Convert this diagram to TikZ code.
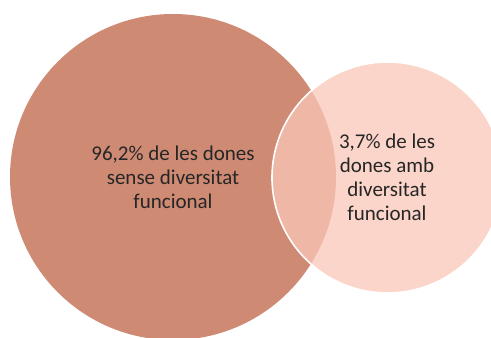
\documentclass[tikz,border=0pt]{standalone}
\usepackage{fontspec}
\setmainfont{Carlito}
\definecolor{bigc}{RGB}{207,138,116}
\definecolor{smallc}{RGB}{250,199,184}
\definecolor{txt}{RGB}{38,38,38}
\begin{document}
\begin{tikzpicture}[x=1pt,y=1pt,
  lbl/.style={align=center,text=txt,font=\fontsize{21}{24}\selectfont,inner sep=0pt}]
\useasboundingbox (0,0) rectangle (491,338);
\clip (0,0) rectangle (491,338);
\fill[white] (0,0) rectangle (491,338);
\fill[bigc] (173,161) circle[radius=163];
\filldraw[fill=smallc,fill opacity=0.75,draw=white,line width=1.6pt] (387.5,160.5) circle[radius=115.5];
\node[lbl] (big) at (173,161) {96,2\% de les dones\\sense diversitat\\funcional};
\node[lbl] (small) at (387,160.5) {3,7\% de les\\dones amb\\diversitat\\funcional};
\end{tikzpicture}
\end{document}
